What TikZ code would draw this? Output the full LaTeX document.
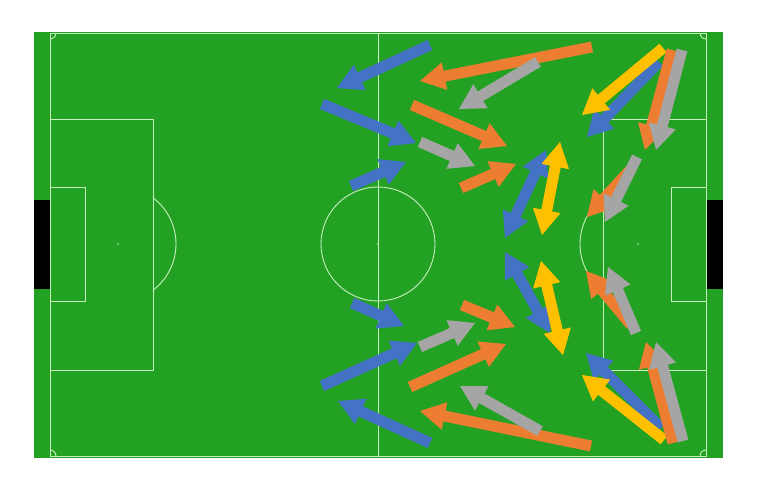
\documentclass[tikz,border=0pt]{standalone}
\usetikzlibrary{calc}
\definecolor{field}{RGB}{35,161,35}
\definecolor{ablue}{RGB}{68,114,196}
\definecolor{aorange}{RGB}{237,125,49}
\definecolor{agray}{RGB}{165,165,165}
\definecolor{ayellow}{RGB}{255,192,0}
\definecolor{pline}{RGB}{200,240,190}
\def\arrS{5.5pt}\def\arrH{14pt}\def\arrL{25pt}
\newcommand\barrow[3]{%
  \coordinate (t) at #2; \coordinate (p) at #3;
  \coordinate (b) at ($(p)!\arrL!(t)$);
  \fill[#1] ($(t)!\arrS!90:(p)$) -- ($(b)!\arrS!-90:(t)$) -- ($(b)!\arrH!-90:(t)$) -- (p)
    -- ($(b)!\arrH!90:(t)$) -- ($(b)!\arrS!90:(t)$) -- ($(t)!\arrS!-90:(p)$) -- cycle;}
\newcommand\darrow[3]{%
  \coordinate (t) at #2; \coordinate (p) at #3;
  \coordinate (b) at ($(p)!\arrL!(t)$);
  \coordinate (c) at ($(t)!\arrL!(p)$);
  \fill[#1] (p) -- ($(b)!\arrH!-90:(t)$) -- ($(b)!\arrS!-90:(t)$) -- ($(c)!\arrS!90:(p)$)
    -- ($(c)!\arrH!90:(p)$) -- (t) -- ($(c)!\arrH!-90:(p)$) -- ($(c)!\arrS!-90:(p)$)
    -- ($(b)!\arrS!90:(t)$) -- ($(b)!\arrH!90:(t)$) -- cycle;}
\tikzset{pitchline/.style={draw=pline,line width=0.9pt}}
\begin{document}
\begin{tikzpicture}[x=1pt,y=-1pt]
\useasboundingbox (0,0) rectangle (758,478);
\fill[white] (0,0) rectangle (758,478);
% field
\fill[field] (34,32) rectangle (723,458);
\fill[black] (34,200) rectangle (50,289);
\fill[black] (706,200) rectangle (723,289);
% lines
\draw[pitchline] (50,33) rectangle (706,456);
\draw[pitchline] (378,33) -- (378,456);
\draw[pitchline] (378,244) circle[radius=57];
\fill[pline] (378,244) circle[radius=0.8];
\draw[pitchline] (50,119) rectangle (153,370);
\draw[pitchline] (50,187.5) rectangle (85.5,301);
\draw[pitchline] (603,119) rectangle (706,370);
\draw[pitchline] (671,187.5) rectangle (706,301);
\fill[pline] (118,244) circle[radius=0.8];
\fill[pline] (638,244) circle[radius=0.8];
\draw[pitchline] (118,244) ++(-53:58) arc[start angle=-53,end angle=53,radius=58];
\draw[pitchline] (638,244) ++(127:58) arc[start angle=127,end angle=233,radius=58];
\draw[pitchline] (56,33) arc[start angle=0,end angle=90,radius=6];
\draw[pitchline] (700,33) arc[start angle=180,end angle=90,radius=6];
\draw[pitchline] (56,456) arc[start angle=0,end angle=-90,radius=6];
\draw[pitchline] (700,456) arc[start angle=180,end angle=270,radius=6];
% top half arrows
\barrow{ablue}{(430,45)}{(337,88)}
\barrow{aorange}{(592,47)}{(420,81)}
\barrow{agray}{(538,62)}{(459,109)}
\barrow{ablue}{(322,104)}{(416,143)}
\barrow{aorange}{(412,105)}{(507,146)}
\barrow{agray}{(420,142)}{(475,166)}
\barrow{ablue}{(351,186)}{(406,162)}
\barrow{aorange}{(461,188)}{(516,164)}
\darrow{ablue}{(546,150)}{(505,238)}
\darrow{ayellow}{(560,142)}{(542,235)}
\barrow{ablue}{(659,62)}{(587,137)}
\barrow{ayellow}{(663,48)}{(582,115)}
\barrow{aorange}{(672,50)}{(645,150)}
\barrow{agray}{(682,50)}{(656,150)}
\barrow{aorange}{(630,170)}{(587,217)}
\barrow{agray}{(637,157)}{(605,222)}
% bottom half arrows
\barrow{ablue}{(430,443)}{(338,401)}
\barrow{aorange}{(591,446)}{(420,411)}
\barrow{agray}{(540,431)}{(460,386)}
\barrow{ablue}{(322,386)}{(417,343)}
\barrow{aorange}{(410,387)}{(506,344)}
\barrow{agray}{(420,347)}{(475,323)}
\barrow{ablue}{(352,303)}{(404,326)}
\barrow{aorange}{(462,305)}{(515,327)}
\darrow{ablue}{(505,252)}{(550,333)}
\darrow{ayellow}{(541,261)}{(563,355)}
\barrow{ablue}{(661,428)}{(586,353)}
\barrow{ayellow}{(664,440)}{(582,375)}
\barrow{aorange}{(673,443)}{(646,342)}
\barrow{agray}{(683,441)}{(656,342)}
\barrow{aorange}{(631,325)}{(586,271)}
\barrow{agray}{(636,333)}{(608,267)}
\end{tikzpicture}
\end{document}
